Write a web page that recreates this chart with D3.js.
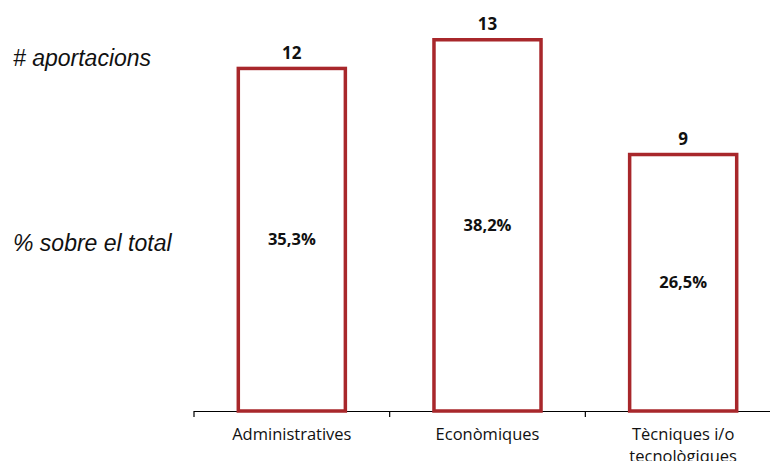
<!DOCTYPE html>
<html><head><meta charset="utf-8">
<script src="https://cdn.jsdelivr.net/npm/d3@7"></script>
<style>body{margin:0;background:#fff;overflow:hidden}</style>
</head><body>
<svg id="c" width="770" height="461"></svg>
<script>
const categories = ["Administratives", "Econòmiques", "Tècniques i/o tecnològiques"];
const counts = [12, 13, 9];
const percents = ["35,3%", "38,2%", "26,5%"];
const rowLabels = ["# aportacions", "% sobre el total"];

const svg = d3.select("#c");
const baseY = 411;
const x = d3.scaleBand().domain(categories).range([194, 781]).paddingInner(0.435).paddingOuter(0.2175);
const y = d3.scaleLinear().domain([0, 13]).range([baseY, 38]);
const red = "#A8272B";

const g = svg.append("g").attr("transform", `translate(0,${baseY})`);
g.append("line").attr("x1", 194).attr("x2", 781).attr("y1", 0.5).attr("y2", 0.5).attr("stroke", "#000").attr("stroke-width", 1.2);
const step = x.step();
const bounds = d3.range(categories.length + 1).map(i => 194 + i * step);
g.selectAll("line.tk").data(bounds).join("line").attr("class", "tk")
  .attr("x1", d => d).attr("x2", d => d).attr("y1", 0).attr("y2", 6)
  .attr("stroke", "#000").attr("stroke-width", 1.2);

svg.selectAll("rect.bar").data(counts).join("rect").attr("class", "bar")
  .attr("x", (d, i) => x(categories[i]) + 1.75)
  .attr("width", x.bandwidth() - 3.5)
  .attr("y", d => y(d) + 1.75)
  .attr("height", d => baseY - y(d) - 1.75)
  .attr("fill", "none").attr("stroke", red).attr("stroke-width", 3.5);

const font = "'Open Sans', 'Noto Sans', sans-serif";
svg.selectAll("text.val").data(counts).join("text").attr("class", "val")
  .attr("x", (d, i) => x(categories[i]) + x.bandwidth() / 2)
  .attr("y", d => y(d) - 8)
  .attr("text-anchor", "middle").attr("font-family", font).attr("font-weight", "bold")
  .attr("font-size", 17).attr("fill", "#111").text(d => d);

svg.selectAll("text.pct").data(counts).join("text").attr("class", "pct")
  .attr("x", (d, i) => x(categories[i]) + x.bandwidth() / 2)
  .attr("y", d => (y(d) + baseY) / 2 + 6)
  .attr("text-anchor", "middle").attr("font-family", font).attr("font-weight", "bold")
  .attr("font-size", 16.5).attr("fill", "#111").text((d, i) => percents[i]);

const cat = svg.selectAll("text.cat").data(categories).join("text").attr("class", "cat")
  .attr("x", d => x(d) + x.bandwidth() / 2)
  .attr("y", 440)
  .attr("text-anchor", "middle").attr("font-family", font)
  .attr("font-size", 16.5).attr("fill", "#111");
cat.each(function(d) {
  const t = d3.select(this);
  const parts = d === "Tècniques i/o tecnològiques" ? ["Tècniques i/o", "tecnològiques"] : [d];
  parts.forEach((p, i) => t.append("tspan").attr("x", x(d) + x.bandwidth() / 2).attr("dy", i ? 22 : 0).text(p));
});

svg.selectAll("text.row").data(rowLabels).join("text").attr("class", "row")
  .attr("x", 13).attr("y", (d, i) => i ? 251 : 66)
  .attr("font-family", "'Liberation Sans', Arial, sans-serif").attr("font-style", "italic")
  .attr("font-size", 23).attr("fill", "#111").text(d => d);
</script>
</body></html>
